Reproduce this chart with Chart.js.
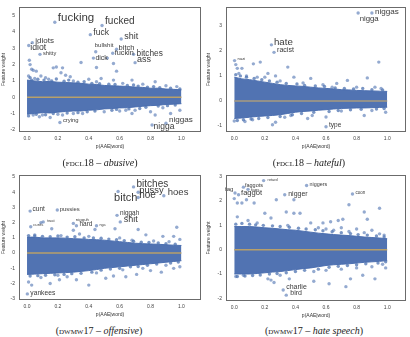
<!DOCTYPE html>
<html>
<head>
<meta charset="utf-8">
<script src="https://cdn.jsdelivr.net/npm/chart.js@4.4.1/dist/chart.umd.min.js"></script>
<style>
body { margin: 0; width: 410px; height: 337px; background: #fff; position: relative; overflow: hidden; }
canvas { position: absolute; }
.cap { position: absolute; font-family: "Liberation Serif", "DejaVu Serif", serif; font-size: 10px; color: #222; transform: translateX(-50%); white-space: nowrap; }
.sc { font-variant: small-caps; }
</style>
</head>
<body>
<canvas id="abusive" style="left:0;top:0" width="205" height="152"></canvas>
<canvas id="hateful" style="left:205px;top:0" width="205" height="152"></canvas>
<canvas id="offensive" style="left:0;top:168px" width="205" height="152"></canvas>
<canvas id="hatespeech" style="left:205px;top:168px" width="205" height="153"></canvas>
<div class="cap" style="left:100px;top:157px">(<span class="sc">fdcl</span>18 – <i>abusive</i>)</div>
<div class="cap" style="left:309px;top:157px">(<span class="sc">fdcl</span>18 – <i>hateful</i>)</div>
<div class="cap" style="left:99px;top:325px">(<span class="sc">dwmw</span>17 – <i>offensive</i>)</div>
<div class="cap" style="left:314px;top:325px">(<span class="sc">dwmw</span>17 – <i>hate speech</i>)</div>
<script>
// shared
const xTicks = [0, 0.2, 0.4, 0.6, 0.8, 1.0]
const bandX = [0, 0.05, 0.1, 0.15, 0.2, 0.25, 0.3, 0.35, 0.4, 0.45, 0.5, 0.55, 0.6, 0.65, 0.7, 0.75, 0.8, 0.85, 0.9, 0.95, 1.0]
const meanX = [0, 1]

// FDCL18 abusive
const abWords = ['fucking', 'fucked', 'fuck', 'shit', 'idiots', 'idiot', 'shitty', 'bullshit', 'bitch', 'fuckin', 'bitches', 'ass', 'dick', 'crying', 'nigga', 'niggas']
const abWordX = [0.18, 0.486, 0.41, 0.61, 0.034, 0.011, 0.084, 0.445, 0.58, 0.555, 0.69, 0.70, 0.43, 0.213, 0.81, 0.90]
const abWordY = [4.6, 4.4, 3.84, 3.57, 3.35, 3.17, 2.63, 2.79, 2.95, 2.7, 2.63, 2.12, 2.4, -1.56, -1.71, -1.6]
const abOutX = [0.015, 0.02, 0.03, 0.04, 0.01, 0.06, 0.17, 0.19, 0.22, 0.23, 0.35, 0.45, 0.56, 0.58, 0.56, 0.68, 0.09, 0.12, 0.25, 0.28, 0.40, 0.48, 0.83, 0.52,
  0.04, 0.08, 0.15, 0.23, 0.36, 0.64, 0.80, 0.93, 0.99, 0.68, 0.83,
  0.05, 0.14, 0.30, 0.45, 0.62, 0.75, 0.90, 0.97, 0.10, 0.30, 0.50, 0.70, 0.88, 0.20, 0.60]
const abOutY = [2.27, 2.0, 1.72, 1.65, 1.3, 1.6, 1.8, 1.85, 1.5, 1.8, 2.13, 1.82, 2.07, 1.6, 1.05, 1.05, 1.3, 1.2, 1.35, 1.25, 1.1, 1.15, 0.95, 2.4,
  -1.1, -1.2, -1.25, -1.1, -1.0, -0.8, -0.9, -1.0, -0.8, -1.0, -1.1,
  1.15, 1.1, 1.0, 0.95, 0.85, 0.8, 0.7, 0.65, -1.1, -1.0, -0.9, -0.8, -0.65, -1.05, -0.85]
const abEdgeX = [0.02, 0.03, 0.07, 0.11, 0.16, 0.19, 0.24, 0.27, 0.33, 0.37, 0.42, 0.47, 0.53, 0.57, 0.65, 0.69, 0.72, 0.78, 0.82, 0.86, 0.93, 0.99,
  0.01, 0.06, 0.12, 0.17, 0.26, 0.33, 0.39, 0.44, 0.55, 0.58, 0.66, 0.73, 0.77, 0.85, 0.91, 0.96]
const abEdgeY = [1.2, 1.05, 1.1, 1.05, 1.0, 1.12, 0.98, 1.05, 0.92, 0.95, 0.85, 0.82, 0.8, 0.78, 0.72, 0.75, 0.68, 0.62, 0.65, 0.58, 0.55, 0.5,
  -1.15, -1.05, -1.08, -1.0, -0.98, -0.95, -0.9, -0.85, -0.8, -0.75, -0.72, -0.7, -0.62, -0.55, -0.52, -0.48]
const abHi = [1.05, 1.0, 0.95, 0.97, 0.92, 0.9, 0.88, 0.85, 0.8, 0.78, 0.72, 0.7, 0.68, 0.66, 0.62, 0.6, 0.55, 0.55, 0.5, 0.48, 0.45]
const abLo = [-1.05, -1.0, -0.95, -0.97, -0.92, -0.88, -0.85, -0.85, -0.8, -0.78, -0.72, -0.7, -0.66, -0.65, -0.6, -0.56, -0.52, -0.5, -0.45, -0.43, -0.4]
const abMean = [0, 0]

// FDCL18 hateful
const hfWords = ['niggas', 'nigga', 'hate', 'racist', 'nazi', 'type']
const hfWordX = [0.90, 0.81, 0.243, 0.26, 0.002, 0.60]
const hfWordY = [3.51, 3.51, 2.24, 1.94, 1.61, -1.03]
const hfOutX = [0.01, 0.02, 0.03, 0.05, 0.125, 0.17, 0.22, 0.35, 0.20, 0.27, 0.39, 0.50, 0.67, 0.74, 0.87, 0.64, 0.92, 0.945,
  0.0, 0.07, 0.25, 0.27, 0.48, 0.51, 0.60, 0.85, 0.99, 0.37,
  0.08, 0.15, 0.30, 0.45, 0.58, 0.80, 0.96, 0.12, 0.33, 0.70, 0.90]
const hfOutY = [1.45, 1.3, 1.1, 1.3, 1.48, 1.55, 1.1, 1.35, 0.95, 1.0, 0.95, 0.9, 0.7, 0.82, 0.92, 0.55, 0.55, 1.55,
  -0.8, -0.82, -0.95, -0.85, -0.7, -0.58, -0.64, -0.58, -0.45, -0.58,
  1.0, 0.95, 0.8, 0.72, 0.65, 0.55, 0.5, -0.75, -0.65, -0.4, -0.38]
const hfEdgeX = [0.01, 0.04, 0.08, 0.13, 0.18, 0.23, 0.28, 0.34, 0.41, 0.46, 0.53, 0.59, 0.66, 0.72, 0.78, 0.84, 0.9, 0.97,
  0.02, 0.06, 0.11, 0.16, 0.22, 0.3, 0.38, 0.44, 0.52, 0.62, 0.68, 0.76, 0.83, 0.93, 0.98]
const hfEdgeY = [1.05, 1.0, 0.95, 0.9, 0.85, 0.8, 0.75, 0.7, 0.68, 0.62, 0.6, 0.58, 0.52, 0.5, 0.48, 0.5, 0.45, 0.44,
  -0.78, -0.75, -0.72, -0.7, -0.66, -0.62, -0.55, -0.5, -0.45, -0.42, -0.38, -0.35, -0.33, -0.32, -0.3]
const hfHi = [0.95, 0.88, 0.85, 0.8, 0.75, 0.7, 0.65, 0.62, 0.6, 0.58, 0.55, 0.52, 0.5, 0.48, 0.45, 0.44, 0.42, 0.41, 0.4, 0.39, 0.38]
const hfLo = [-0.7, -0.68, -0.65, -0.62, -0.6, -0.58, -0.55, -0.5, -0.45, -0.42, -0.4, -0.37, -0.35, -0.32, -0.3, -0.29, -0.28, -0.28, -0.27, -0.26, -0.25]
const hfMean = [0, 0]

// DWMW17 offensive
const ofWords = ['bitches', 'pussy', 'hoe', 'bitch', 'hoes', 'cunt', 'pussies', 'niggah', 'shit', 'hard', 'nigguh', 'twat', 'nga', 'cunts', 'yankees']
const ofWordX = [0.69, 0.72, 0.72, 0.59, 0.886, 0.02, 0.196, 0.583, 0.604, 0.32, 0.30, 0.105, 0.45, 0.024, 0.002]
const ofWordY = [4.35, 4.0, 3.65, 4.05, 3.77, 2.76, 2.83, 2.48, 2.05, 1.8, 1.95, 2.05, 1.8, 1.73, -2.68]
const ofOutX = [0.09, 0.16, 0.30, 0.44, 0.57, 0.72, 0.97, 0.95, 0.99, 0.88, 0.77, 0.22, 0.34,
  0.01, 0.03, 0.15, 0.21, 0.40, 0.32, 0.51, 0.56, 0.64, 0.71, 0.80, 0.87, 0.95, 0.99, 0.26, 0.09,
  0.05, 0.40, 0.60, 0.68, 0.82, 0.92, 0.45, 0.62, 0.75, 0.90, 0.20]
const ofOutY = [2.0, 1.6, 1.5, 1.55, 1.6, 1.55, 1.7, 1.1, 0.9, 1.1, 1.2, 1.15, 1.25,
  -1.9, -2.1, -2.0, -1.75, -2.1, -1.75, -1.65, -1.5, -1.55, -1.4, -1.15, -1.25, -1.0, -0.9, -1.55, -1.6,
  1.2, 1.1, 1.0, 0.85, 0.8, 0.75, -1.3, -1.1, -1.0, -0.8, -1.45]
const ofEdgeX = [0.01, 0.05, 0.1, 0.15, 0.2, 0.26, 0.31, 0.37, 0.43, 0.48, 0.53, 0.58, 0.63, 0.69, 0.74, 0.79, 0.85, 0.9, 0.96,
  0.02, 0.07, 0.12, 0.18, 0.24, 0.29, 0.35, 0.42, 0.48, 0.54, 0.6, 0.67, 0.72, 0.78, 0.84, 0.93, 0.98]
const ofEdgeY = [1.15, 1.12, 1.1, 1.08, 1.12, 1.05, 1.08, 1.0, 1.0, 0.98, 0.92, 0.88, 0.82, 0.78, 0.72, 0.7, 0.66, 0.62, 0.58,
  -1.5, -1.48, -1.45, -1.42, -1.4, -1.35, -1.33, -1.25, -1.12, -1.05, -1.0, -0.9, -0.88, -0.8, -0.72, -0.65, -0.58]
const ofHi = [1.05, 1.05, 1.0, 1.0, 1.0, 0.98, 0.95, 0.93, 0.9, 0.88, 0.85, 0.8, 0.75, 0.7, 0.65, 0.62, 0.6, 0.58, 0.55, 0.52, 0.5]
const ofLo = [-1.4, -1.38, -1.35, -1.33, -1.3, -1.28, -1.25, -1.2, -1.15, -1.08, -1.0, -0.95, -0.9, -0.85, -0.8, -0.75, -0.7, -0.65, -0.6, -0.55, -0.5]
const ofMean = [0, 0]

// DWMW17 hate speech
const hsWords = ['retard', 'faggots', 'fags', 'fag', 'faggot', 'nigger', 'niggers', 'coon', 'charlie', 'bird']
const hsWordX = [0.192, 0.06, 0.09, 0.005, 0.028, 0.33, 0.473, 0.773, 0.32, 0.34]
const hsWordY = [2.84, 2.57, 2.48, 2.33, 2.26, 2.26, 2.64, 2.29, -1.66, -1.87]
const hsOutX = [0.02, 0.05, 0.13, 0.08, 0.275, 0.39, 0.20, 0.34, 0.39, 0.43, 0.68, 0.85, 0.95, 0.87, 0.75, 0.24, 0.02, 0.09, 0.50, 0.58, 0.63, 0.71, 0.0,
  0.01, 0.06, 0.22, 0.24, 0.30, 0.36, 0.62, 0.73, 0.76, 0.92, 0.99, 0.84, 0.52, 0.26,
  0.55, 0.60, 0.65, 0.70, 0.75, 0.80, 0.85, 0.90, 0.95, 0.98, 0.52, 0.60, 0.70, 0.80, 0.90, 0.97, 0.15, 0.35]
const hsOutY = [1.92, 1.92, 1.92, 2.05, 2.05, 2.05, 1.5, 1.55, 1.5, 1.5, 1.2, 1.55, 1.7, 1.25, 1.85, 1.3, 1.35, 1.2, 1.1, 1.1, 1.15, 1.25, 2.1,
  -1.1, -1.05, -1.2, -1.25, -1.05, -1.2, -1.4, -1.52, -1.2, -1.2, -0.75, -1.05, -1.3, -1.35,
  0.9, 0.85, 0.8, 0.9, 0.75, 0.85, 0.7, 0.8, 0.65, 0.6, -0.9, -0.85, -0.8, -0.75, -0.7, -0.6, 1.1, 1.0]
const hsEdgeX = [0.01, 0.05, 0.1, 0.14, 0.19, 0.25, 0.3, 0.36, 0.42, 0.47, 0.53, 0.58, 0.64, 0.7, 0.76, 0.81, 0.87, 0.93, 0.98,
  0.02, 0.07, 0.12, 0.17, 0.23, 0.28, 0.34, 0.4, 0.46, 0.55, 0.62, 0.68, 0.74, 0.8, 0.86, 0.94, 0.99]
const hsEdgeY = [1.05, 1.08, 1.05, 1.02, 1.0, 0.98, 0.95, 0.92, 0.88, 0.85, 0.82, 0.78, 0.74, 0.7, 0.66, 0.62, 0.6, 0.56, 0.52,
  -1.1, -1.08, -1.06, -1.04, -1.0, -0.98, -0.95, -0.9, -0.85, -0.8, -0.72, -0.68, -0.65, -0.62, -0.58, -0.55, -0.5]
const hsHi = [0.95, 0.95, 0.95, 0.93, 0.9, 0.88, 0.85, 0.82, 0.8, 0.76, 0.72, 0.68, 0.65, 0.62, 0.6, 0.58, 0.55, 0.52, 0.5, 0.48, 0.45]
const hsLo = [-1.0, -1.0, -1.0, -0.98, -0.95, -0.92, -0.9, -0.86, -0.82, -0.78, -0.75, -0.7, -0.65, -0.62, -0.6, -0.58, -0.55, -0.52, -0.5, -0.48, -0.45]
const hsMean = [0, 0]

// label styling: [font px, dx, dy]
const abStyle = [[11.5, 3, -4], [10, 3, -4], [8.5, 3, -2], [9, 3, -3], [8, 3, -2], [8.7, 1.5, 2], [5.7, 3, -1], [6, -1, -6], [7.5, 2, -1], [7.3, 2, 0], [8.3, 3, -1], [9, 2, -3], [7, 2, 0], [5.9, 3, -2], [8.5, 1.5, 2], [8.1, 3, -3]]
const hfStyle = [[8.1, 3, -1], [7.8, 1.5, 6], [9.7, 2.5, -3], [7.1, 3, -2], [4.2, 3, -2], [6.5, 3, -2]]
const ofStyle = [[10, 3, -3], [9.4, 1, -1.5], [10, 1, -2], [11, -4, 7], [9.5, 4, -3], [6.5, 2.5, -2], [5.9, 2.5, -1], [6.4, 3, -2], [9, 3.5, -2], [6.5, 3, -1], [4.4, 2.5, -4], [4, 4, -1], [3.6, 3, -1], [4.2, 2.5, -2], [6.7, 3, -1]]
const hsStyle = [[3.8, 4, -1], [5.5, 1.5, -2], [4.4, 3, 0], [6, -10, -4], [7.6, 2.5, -2], [7, 3.5, -1], [5.4, 3, -1], [4.5, 3, -1], [7, 3, -2.5], [7, 4, -2.5]]

Chart.defaults.font.family = '"Liberation Sans", Arial, sans-serif'

const pts = (xs, ys) => xs.map((x, i) => ({ x: x, y: ys[i] }))

const frame = {
    id: 'frame',
    afterDraw(chart) {
        const a = chart.chartArea
        const c = chart.ctx
        c.save()
        c.strokeStyle = '#6b6b6b'
        c.lineWidth = 1
        c.strokeRect(Math.round(a.left) + 0.5, Math.round(a.top) + 0.5, Math.round(a.width) - 1, Math.round(a.height) - 1)
        c.restore()
    }
}

const wordLabels = {
    id: 'wordLabels',
    afterDatasetsDraw(chart, args, opts) {
        const meta = chart.getDatasetMeta(1)
        const c = chart.ctx
        c.save()
        c.fillStyle = '#3a3a3a'
        c.textBaseline = 'middle'
        meta.data.forEach((p, i) => {
            const st = opts.style[i]
            c.font = st[0] + 'px "Liberation Sans", Arial, sans-serif'
            c.fillText(opts.text[i], p.x + st[1], p.y + st[2])
        })
        c.restore()
    }
}

function makeChart(id, p) {
    const blue = 'rgba(76,114,176,0.6)'
    const band = 'rgba(72,108,174,0.95)'
    return new Chart(document.getElementById(id), {
        type: 'scatter',
        data: {
            datasets: [
                { type: 'line', data: pts(meanX, p.mean), borderColor: p.lineColor, borderWidth: 1.5, pointRadius: 0 },
                { data: pts(p.wx, p.wy), backgroundColor: blue, borderWidth: 0, pointRadius: 1.7 },
                { data: pts(p.ox, p.oy), backgroundColor: blue, borderWidth: 0, pointRadius: 1.7 },
                { data: pts(p.ex, p.ey), backgroundColor: 'rgba(76,114,176,0.75)', borderWidth: 0, pointRadius: 1.7 },
                { type: 'line', data: pts(bandX, p.hi), borderColor: band, borderWidth: 1, pointRadius: 0, tension: 0, fill: false },
                { type: 'line', data: pts(bandX, p.lo), borderColor: band, borderWidth: 1, pointRadius: 0, tension: 0, fill: '-1', backgroundColor: band }
            ]
        },
        options: {
            responsive: false,
            animation: false,
            layout: { padding: { left: 0, right: p.padRight, top: 5, bottom: 0 } },
            plugins: {
                legend: { display: false },
                tooltip: { enabled: false },
                wordLabels: { text: p.words, style: p.style }
            },
            scales: {
                x: {
                    type: 'linear', min: p.xMin, max: p.xMax,
                    afterBuildTicks: s => { s.ticks = xTicks.map(v => ({ value: v })) },
                    afterFit: s => { s.height = p.xH },
                    grid: { display: false, drawTicks: false },
                    border: { display: false },
                    ticks: { font: { size: 5 }, color: '#444', padding: 4, autoSkip: false, maxRotation: 0, callback: v => v.toFixed(1) },
                    title: { display: true, text: 'p(AAE|word)', font: { size: 5 }, color: '#333', padding: { top: 1, bottom: 2 } }
                },
                y: {
                    type: 'linear', min: p.yMin, max: p.yMax,
                    afterBuildTicks: s => { s.ticks = p.yTicks.map(v => ({ value: v })) },
                    afterFit: s => { s.width = p.yW },
                    grid: { display: false, drawTicks: false },
                    border: { display: false },
                    ticks: { font: { size: 5 }, color: '#444', padding: 4, autoSkip: false, callback: v => String(v) },
                    title: { display: true, text: 'Feature weight', font: { size: 5 }, color: '#333', padding: { top: 1, bottom: 1 } }
                }
            }
        },
        plugins: [frame, wordLabels]
    })
}

makeChart('abusive', {
    words: abWords, wx: abWordX, wy: abWordY, ox: abOutX, oy: abOutY, ex: abEdgeX, ey: abEdgeY, hi: abHi, lo: abLo, mean: abMean, style: abStyle,
    xMin: -0.052, xMax: 1.127, yMin: -2.14, yMax: 5.54, yTicks: [-2, -1, 0, 1, 2, 3, 4, 5],
    yW: 19, xH: 20, padRight: 3, lineColor: '#b8a06a'
})
makeChart('hateful', {
    words: hfWords, wx: hfWordX, wy: hfWordY, ox: hfOutX, oy: hfOutY, ex: hfEdgeX, ey: hfEdgeY, hi: hfHi, lo: hfLo, mean: hfMean, style: hfStyle,
    xMin: -0.054, xMax: 1.123, yMin: -1.24, yMax: 3.75, yTicks: [-1, 0, 1, 2, 3],
    yW: 21, xH: 20, padRight: 2, lineColor: '#a89c80'
})
makeChart('offensive', {
    words: ofWords, wx: ofWordX, wy: ofWordY, ox: ofOutX, oy: ofOutY, ex: ofEdgeX, ey: ofEdgeY, hi: ofHi, lo: ofLo, mean: ofMean, style: ofStyle,
    xMin: -0.052, xMax: 1.127, yMin: -3.08, yMax: 5.13, yTicks: [-3, -2, -1, 0, 1, 2, 3, 4, 5],
    yW: 19, xH: 20, padRight: 3, lineColor: '#b8a06a'
})
makeChart('hatespeech', {
    words: hsWords, wx: hsWordX, wy: hsWordY, ox: hsOutX, oy: hsOutY, ex: hsEdgeX, ey: hsEdgeY, hi: hsHi, lo: hsLo, mean: hsMean, style: hsStyle,
    xMin: -0.054, xMax: 1.123, yMin: -2.11, yMax: 3.07, yTicks: [-2, -1, 0, 1, 2, 3],
    yW: 21, xH: 20, padRight: 2, lineColor: '#b8a06a'
})
</script>
</body>
</html>
